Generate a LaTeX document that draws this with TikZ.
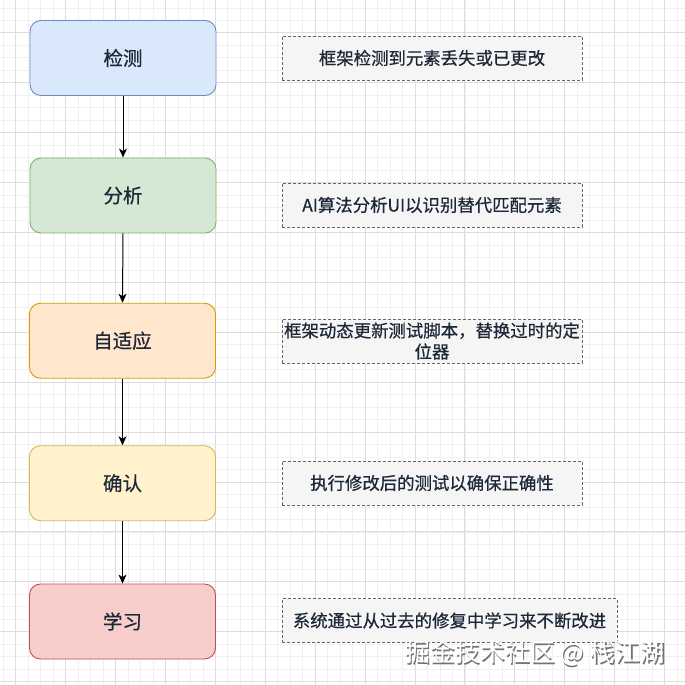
\documentclass[tikz,border=0pt]{standalone}
\usepackage{fontspec}
\setmainfont{Noto Sans CJK SC}[FakeBold=0.6]
\newfontfamily\wmfont{Noto Sans CJK SC}
\usetikzlibrary{arrows.meta}
\definecolor{txt}{HTML}{1C2838}
\definecolor{gminor}{HTML}{F0F0F0}
\definecolor{gmajor}{HTML}{DDDDDD}
\definecolor{f1}{HTML}{DAE8FC}\definecolor{d1}{HTML}{6C8EBF}
\definecolor{f2}{HTML}{D5E8D4}\definecolor{d2}{HTML}{82B366}
\definecolor{f3}{HTML}{FFE6CC}\definecolor{d3}{HTML}{D79B00}
\definecolor{f4}{HTML}{FFF2CC}\definecolor{d4}{HTML}{D6B656}
\definecolor{f5}{HTML}{F8CECC}\definecolor{d5}{HTML}{B85450}
\tikzset{
  stage/.style={draw, rounded corners=11pt, line width=0.9pt, minimum width=186pt, minimum height=75pt, inner sep=0pt, text=txt, font=\fontsize{19.5}{23}\selectfont},
  note/.style={draw=black!60, fill=black!4, dashed, dash pattern=on 3pt off 2pt, line width=0.9pt, minimum width=300pt, minimum height=44pt, inner sep=2pt, text=txt, font=\fontsize{17.4}{21}\selectfont, align=center},
  flow/.style={-{Stealth[length=9pt,width=8pt,inset=2.5pt]}, line width=1pt, black}
}
\begin{document}
\begin{tikzpicture}[x=1pt,y=-1pt]
\useasboundingbox (0,0) rectangle (685,685);
\fill[white] (0,0) rectangle (685,685);
% grid
\foreach \i in {-2,...,55} {
  \draw[gminor, line width=0.6pt] ({15.7+12.475*\i},0) -- ({15.7+12.475*\i},685);
  \draw[gminor, line width=0.6pt] (0,{32.8+12.475*\i}) -- (685,{32.8+12.475*\i});
}
\foreach \i in {-1,...,14} {
  \draw[gmajor, line width=0.7pt] ({15.7+49.9*\i},0) -- ({15.7+49.9*\i},685);
  \draw[gmajor, line width=0.7pt] (0,{32.8+49.9*\i}) -- (685,{32.8+49.9*\i});
}
% stages
\node[stage, fill=f1, draw=d1] (s1) at (123,58) {检测};
\node[stage, fill=f2, draw=d2] (s2) at (123,195.5) {分析};
\node[stage, fill=f3, draw=d3] (s3) at (122.5,340.7) {自适应};
\node[stage, fill=f4, draw=d4] (s4) at (122.5,483.2) {确认};
\node[stage, fill=f5, draw=d5] (s5) at (122.5,621.5) {学习};
% notes
\node[note] (n1) at (432,58) {框架检测到元素丢失或已更改};
\node[note] (n2) at (432,205) {AI算法分析UI以识别替代匹配元素};
\node[note, inner sep=1pt] (n3) at (432,341) {框架动态更新测试脚本，替换过时的定\\[0pt]位器};
\node[note] (n4) at (432,483) {执行修改后的测试以确保正确性};
\node[note, minimum width=335pt] (n5) at (449.5,620.5) {系统通过从过去的修复中学习来不断改进};
% arrows
\draw[flow] (s1.south) -- (s2.north);
\draw[flow] (s2.south) -- (s3.north);
\draw[flow] (s3.south) -- (s4.north);
\draw[flow] (s4.south) -- (s5.north);
% watermark
\node[text=black!55, font=\wmfont\fontsize{25}{28}\selectfont, anchor=center] (wm0) at (536.2,654.7) {掘金技术社区 @ 栈江湖};
\node[text=white, font=\wmfont\fontsize{25}{28}\selectfont, anchor=center] (wm) at (535,653.5) {掘金技术社区 @ 栈江湖};
\end{tikzpicture}
\end{document}
